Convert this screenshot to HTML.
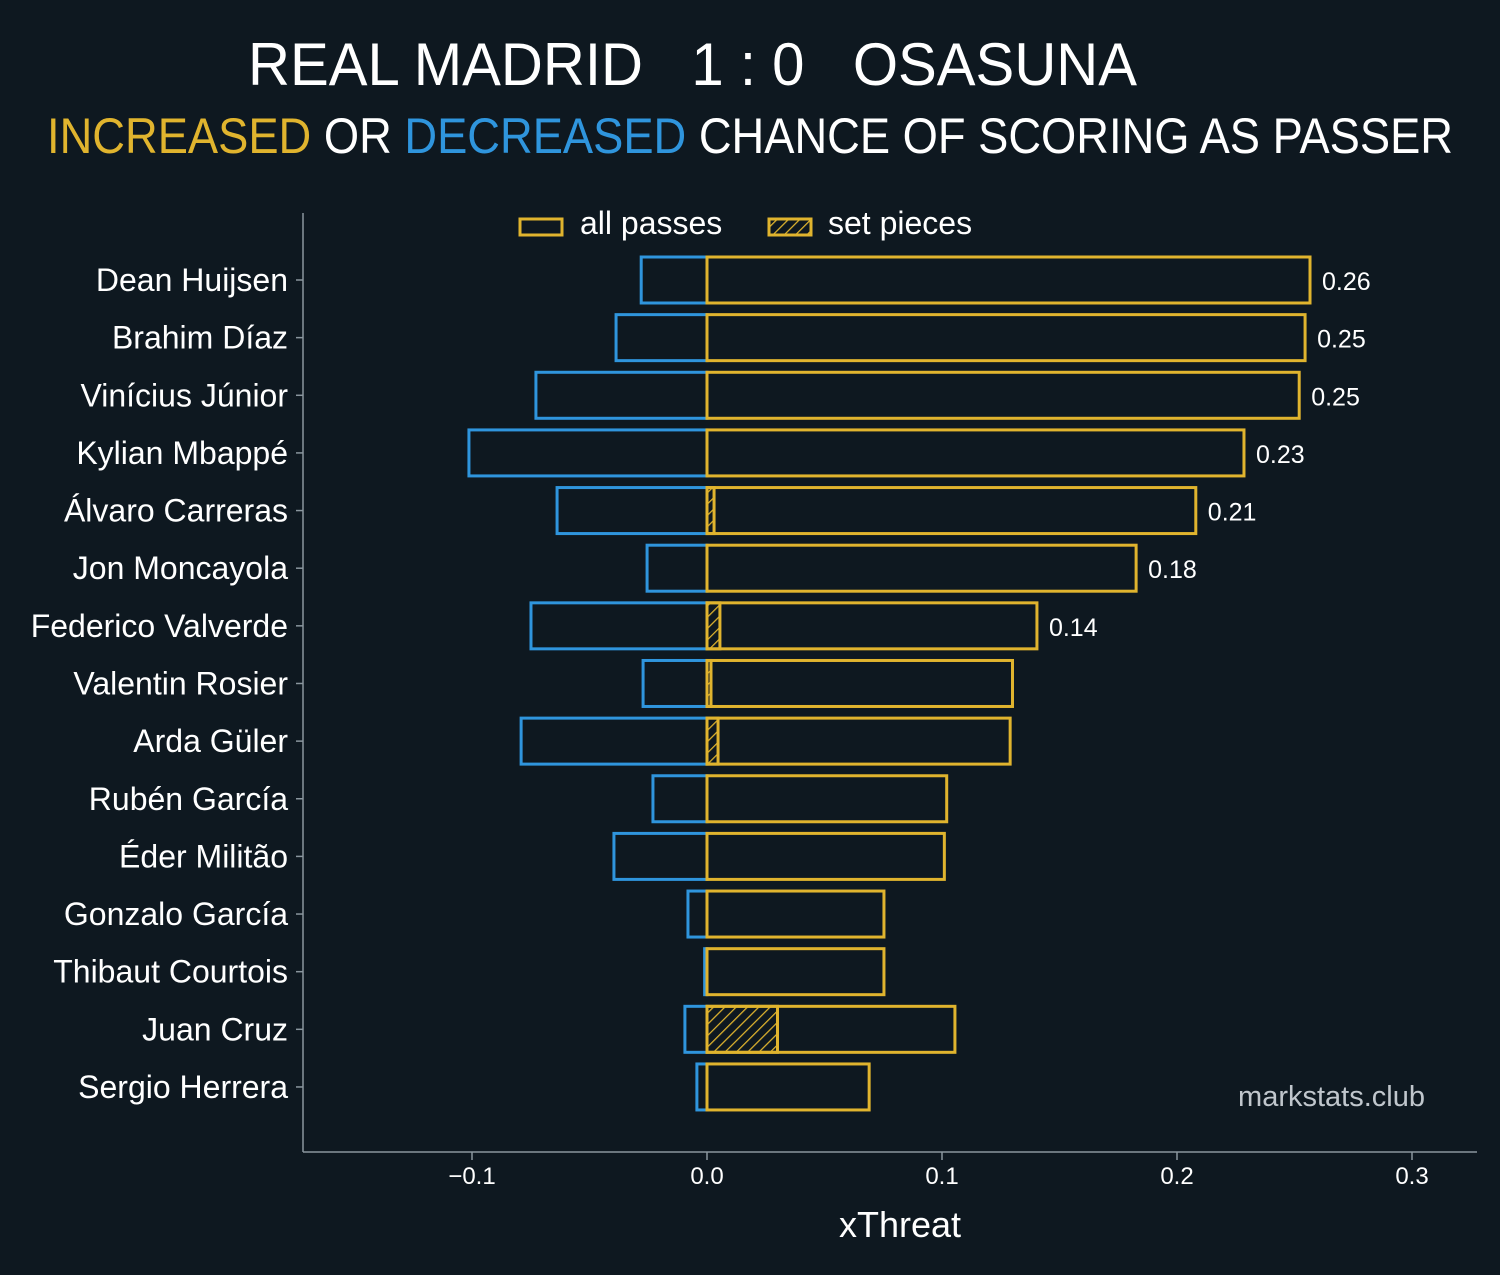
<!DOCTYPE html>
<html><head><meta charset="utf-8"><style>
html,body{margin:0;padding:0;background:#0e1820;}
svg{display:block;font-family:"Liberation Sans",sans-serif;}
</style></head><body>
<svg id="chart" width="1500" height="1275" viewBox="0 0 1500 1275">
<defs>
<pattern id="hatch" patternUnits="userSpaceOnUse" width="8" height="8" patternTransform="rotate(45)">
<rect width="8" height="8" fill="#0e1820"/><line x1="0" y1="0" x2="0" y2="8" stroke="#e0b42e" stroke-width="2.5"/>
</pattern>
</defs>
<rect width="1500" height="1275" fill="#0e1820"/>
<text x="248" y="85" font-size="60" fill="#fff" textLength="889" lengthAdjust="spacingAndGlyphs" xml:space="preserve">REAL MADRID   1 : 0   OSASUNA</text>
<text x="47" y="153" font-size="50" fill="#fff" textLength="1406" lengthAdjust="spacingAndGlyphs"><tspan fill="#e0b42e">INCREASED</tspan> OR <tspan fill="#2f95dd">DECREASED</tspan> CHANCE OF SCORING AS PASSER</text>
<g>
<rect x="520" y="219" width="42" height="16" fill="none" stroke="#e0b42e" stroke-width="3"/>
<text x="580" y="234" font-size="32" fill="#fff">all passes</text>
<rect x="769" y="219" width="42" height="16" fill="url(#hatch)" stroke="#e0b42e" stroke-width="3"/>
<text x="828" y="234" font-size="32" fill="#fff">set pieces</text>
</g>
<line x1="303" y1="213" x2="303" y2="1152" stroke="#8a969e" stroke-width="1.5"/>
<line x1="303" y1="1152" x2="1477" y2="1152" stroke="#8a969e" stroke-width="1.5"/>
<text x="900" y="1237" text-anchor="middle" font-size="36" fill="#fff">xThreat</text>
<text x="1425" y="1106" text-anchor="end" font-size="29" fill="#c0c6cc">markstats.club</text>
<g id="bars"></g>
</svg>
<script>
const players=["Dean Huijsen","Brahim Díaz","Vinícius Júnior","Kylian Mbappé","Álvaro Carreras","Jon Moncayola","Federico Valverde","Valentin Rosier","Arda Güler","Rubén García","Éder Militão","Gonzalo García","Thibaut Courtois","Juan Cruz","Sergio Herrera"];
const positive=[0.2566,0.2545,0.252,0.2285,0.208,0.1826,0.1404,0.130,0.129,0.102,0.101,0.0753,0.0753,0.1055,0.069];
const negative=[-0.028,-0.0387,-0.0728,-0.1013,-0.0638,-0.0255,-0.0749,-0.0272,-0.0791,-0.023,-0.0396,-0.0081,-0.001,-0.0094,-0.0043];
const setPieces=[0,0,0,0,0.003,0,0.0055,0.0017,0.0047,0,0,0,0,0.030,0];
const xTicks=[-0.1,0,0.1,0.2,0.3];
const xTickLabels=["−0.1","0.0","0.1","0.2","0.3"];
const labelCount=7;

const NS="http://www.w3.org/2000/svg";
const g=document.getElementById("bars");
const x=v=>707+v*2350;
const y=i=>280+i*57.64;
const bh=46;
function mk(tag,attrs,parent){const e=document.createElementNS(NS,tag);for(const k in attrs)e.setAttribute(k,attrs[k]);(parent||g).appendChild(e);return e;}
xTicks.forEach((t,i)=>{
  const l=mk("line",{x1:x(t),x2:x(t),y1:1152,y2:1160,stroke:"#8a969e","stroke-width":1.5});
  
  
  const tx=mk("text",{x:x(t),y:1184,"text-anchor":"middle","font-size":24,fill:"#fff"});
  tx.textContent=xTickLabels[i];
  
  
});
players.forEach((p,i)=>{
  const yc=y(i);
  const tk=mk("line",{x1:296,x2:303,y1:yc,y2:yc,stroke:"#8a969e","stroke-width":1.5});
  
  
  const lb=mk("text",{x:288,y:yc+11,"text-anchor":"end","font-size":32,fill:"#fff"});
  lb.textContent=p;
  
  
  const nb=mk("rect",{x:x(negative[i]),y:yc-bh/2,width:x(0)-x(negative[i]),height:bh,fill:"none",stroke:"#2f95dd","stroke-width":3});
  
  
  if(setPieces[i]>0){
    const sb=mk("rect",{x:x(0),y:yc-bh/2,width:x(setPieces[i])-x(0),height:bh,fill:"url(#hatch)",stroke:"#e0b42e","stroke-width":3});
    
    
  }
  const pb=mk("rect",{x:x(0),y:yc-bh/2,width:x(positive[i])-x(0),height:bh,fill:"none",stroke:"#e0b42e","stroke-width":3});
  
  
  if(i<labelCount){
    const vt=mk("text",{x:x(positive[i])+12,y:yc+10,"font-size":25,fill:"#fff"});
    vt.textContent=positive[i].toFixed(2);
    
    
  }
});
</script>
</body></html>
